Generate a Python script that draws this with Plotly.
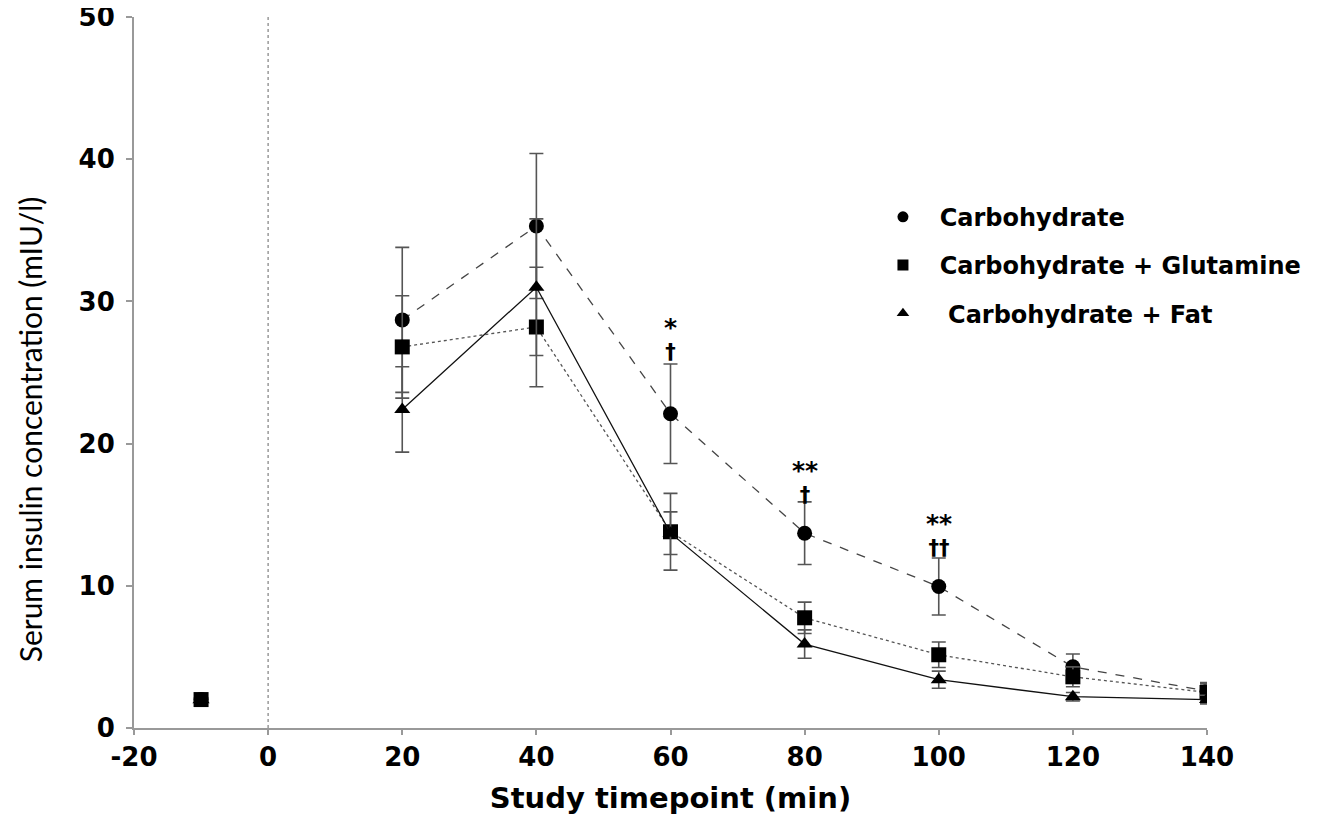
import plotly.graph_objects as go

# Data
baseline_x = -10
timepoints = [20, 40, 60, 80, 100, 120, 140]

carb_baseline = 2.0
carb = [28.7, 35.3, 22.1, 13.7, 9.95, 4.3, 2.6]
carb_err = [5.1, 5.1, 3.5, 2.2, 2.0, 0.9, 0.6]

glut_baseline = 2.0
glut = [26.8, 28.2, 13.8, 7.75, 5.15, 3.6, 2.5]
glut_err = [3.6, 4.2, 2.7, 1.1, 0.9, 0.7, 0.6]

fat_baseline = 2.0
fat = [22.4, 31.0, 13.7, 5.9, 3.4, 2.2, 2.0]
fat_err = [3.0, 4.8, 1.5, 1.0, 0.6, 0.3, 0.3]

series_names = ["Carbohydrate", "Carbohydrate + Glutamine", "Carbohydrate + Fat"]

# significance labels (star line over dagger line)
sig_x = [60, 80, 100]
sig_star = ["*", "**", "**"]
sig_dagger = ["†", "†", "††"]
sig_y = [27.4, 17.3, 13.6]

x_ticks = [-20, 0, 20, 40, 60, 80, 100, 120, 140]
y_ticks = [0, 10, 20, 30, 40, 50]

fig = go.Figure()

styles = [
    dict(sym="circle", dash="dash", color="#444444", width=1.3, pad="\u00a0\u00a0"),
    dict(sym="square", dash="dot", color="#555555", width=1.3, pad="\u00a0\u00a0"),
    dict(sym="triangle-up", dash="solid", color="#111111", width=1.3, pad="\u00a0\u00a0\u00a0"),
]
all_vals = [(carb, carb_err, carb_baseline), (glut, glut_err, glut_baseline), (fat, fat_err, fat_baseline)]

for (vals, errs, base), st, name in zip(all_vals, styles, series_names):
    fig.add_trace(go.Scatter(
        x=timepoints, y=vals, mode="lines+markers", showlegend=False,
        line=dict(color=st["color"], width=st["width"], dash=st["dash"]),
        marker=dict(symbol=st["sym"], size=15 if st["sym"] != "triangle-up" else 14, color="black"),
        error_y=dict(type="data", array=errs, visible=True, color="#555555", thickness=1.6, width=7),
        name=name,
    ))

# baseline point(s)
for (vals, errs, base), st, name in list(zip(all_vals, styles, series_names))[::-1]:
    fig.add_trace(go.Scatter(
        x=[baseline_x], y=[base], mode="markers", showlegend=False,
        marker=dict(symbol=st["sym"], size=15, color="black"),
    ))

# legend-only traces
for i, (st, name) in enumerate(zip(styles, series_names)):
    fig.add_trace(go.Scatter(
        x=[None], y=[None], mode="markers", name=st["pad"] + name, legendgroup=f"g{i}",
        marker=dict(symbol=st["sym"], size=11, color="black"),
    ))

# vertical dotted line at x = 0
fig.add_vline(x=0, line=dict(color="#999999", width=1.5, dash="dot"))

for x, s, d, y in zip(sig_x, sig_star, sig_dagger, sig_y):
    fig.add_annotation(x=x, y=y, showarrow=False,
                       text="<b><span style='font-size:25px'>" + s + "</span><br>"
                            "<span style='font-size:21px'>" + d + "</span></b>",
                       font=dict(family="DejaVu Sans", size=18, color="black"))

# y-axis title as annotation (placed lower than centre, as in the reference)
fig.add_annotation(xref="paper", yref="paper", x=-0.097, y=0.42, textangle=-90,
                   xanchor="center", yanchor="middle",
                   text="Serum insulin concentration (mIU/l)", showarrow=False,
                   font=dict(family="Lato", size=30, color="black"))

# page body has an 8px margin: compensate so plot area sits at x 134..1207, y 17..729
fig.update_layout(
    width=1323, height=824,
    margin=dict(l=126, r=124, t=9, b=104),
    plot_bgcolor="white", paper_bgcolor="white",
    legend=dict(x=0.698, y=0.75, xanchor="left", yanchor="top",
                font=dict(family="DejaVu Sans", size=24, color="black", weight="bold"),
                tracegroupgap=14, bgcolor="rgba(0,0,0,0)"),
    xaxis=dict(range=[-20, 140], tickvals=x_ticks, ticktext=[str(v) for v in x_ticks],
               automargin=False,
               showgrid=False, zeroline=False, showline=True, linecolor="#999999", linewidth=2,
               ticks="outside", ticklen=5, tickcolor="#999999", tickwidth=1.5,
               tickfont=dict(family="DejaVu Sans", size=26, color="black", weight="bold"),
               title=dict(text="Study timepoint (min)", standoff=16,
                          font=dict(family="DejaVu Sans", size=29, color="black", weight="bold"))),
    yaxis=dict(range=[0, 50], tickvals=y_ticks, ticktext=[str(v) for v in y_ticks],
               automargin=False, ticklabelstandoff=6, ticklabeloverflow="allow",
               showgrid=False, zeroline=False, showline=True, linecolor="#999999", linewidth=2,
               ticks="outside", ticklen=6, tickcolor="#999999", tickwidth=1.5,
               tickfont=dict(family="DejaVu Sans", size=26, color="black", weight="bold")),
)

fig.write_html("out.html")
